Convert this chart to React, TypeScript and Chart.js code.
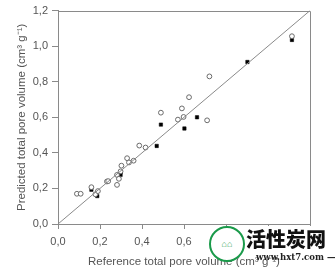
import React, { useEffect, useRef } from "react";
import { Chart, registerables } from "chart.js";

Chart.register(...registerables);

const openX = [0.09, 0.108, 0.159, 0.178, 0.19, 0.233, 0.239, 0.281, 0.281, 0.29, 0.302, 0.298, 0.329, 0.338, 0.36, 0.387, 0.417, 0.49, 0.571, 0.59, 0.598, 0.624, 0.71, 0.721, 1.114];
const openY = [0.17, 0.17, 0.207, 0.167, 0.185, 0.239, 0.241, 0.22, 0.276, 0.254, 0.328, 0.296, 0.37, 0.346, 0.356, 0.441, 0.43, 0.626, 0.587, 0.65, 0.602, 0.713, 0.583, 0.83, 1.056];
const filledX = [0.159, 0.187, 0.298, 0.298, 0.47, 0.49, 0.602, 0.662, 0.902, 1.114];
const filledY = [0.193, 0.157, 0.291, 0.276, 0.439, 0.559, 0.537, 0.6, 0.911, 1.035];
const lineX = [0, 1.2];
const lineY = [0, 1.2];
const ticks = [0, 0.2, 0.4, 0.6, 0.8, 1.0, 1.2];

const toPts = (xs: number[], ys: number[]) => xs.map((x, i) => ({ x, y: ys[i] }));

const boxPlugin = {
  id: "box",
  afterDraw(chart: any) {
    const { ctx, chartArea } = chart;
    ctx.save();
    ctx.strokeStyle = "#8a8a8a";
    ctx.lineWidth = 1;
    ctx.beginPath();
    ctx.moveTo(Math.round(chartArea.left) + 0.5, Math.round(chartArea.top) + 0.5);
    ctx.lineTo(Math.round(chartArea.right) + 0.5, Math.round(chartArea.top) + 0.5);
    ctx.lineTo(Math.round(chartArea.right) + 0.5, Math.round(chartArea.bottom) + 0.5);
    ctx.stroke();
    ctx.restore();
  },
};

export default function App() {
  const ref = useRef<HTMLCanvasElement>(null);
  useEffect(() => {
    const fmt = (v: any) => Number(v).toFixed(1).replace(".", ",");
    const font = { family: "'Liberation Sans', Arial, sans-serif", size: 11 };
    const chart = new Chart(ref.current!, {
      type: "scatter",
      data: {
        datasets: [
          {
            type: "line",
            data: toPts(lineX, lineY),
            borderColor: "#8a8a8a",
            borderWidth: 1,
            pointRadius: 0,
            fill: false,
          } as any,
          {
            data: toPts(openX, openY),
            pointStyle: "circle",
            pointRadius: 2.4,
            backgroundColor: "#ffffff",
            borderColor: "#6a6a6a",
            borderWidth: 1,
          },
          {
            data: toPts(filledX, filledY),
            pointStyle: "rect",
            pointRadius: 2.4,
            backgroundColor: "#000000",
            borderColor: "#000000",
            borderWidth: 0.5,
          },
        ],
      },
      options: {
        animation: false,
        responsive: false,
        layout: { padding: { left: 0, right: 25, top: 8, bottom: 0 } },
        plugins: { legend: { display: false }, tooltip: { enabled: false } },
        scales: {
          x: {
            type: "linear",
            min: 0,
            max: 1.2,
            afterBuildTicks: (s: any) => { s.ticks = ticks.map((v) => ({ value: v })); },
            afterFit: (s: any) => { s.height = 45; },
            ticks: { callback: fmt, color: "#555", font, padding: 6, maxRotation: 0 },
            grid: { drawOnChartArea: false, drawTicks: true, tickLength: 5, color: "#8a8a8a" },
            border: { color: "#8a8a8a" },
            title: { display: true, text: "Reference total pore volume (cm³ g⁻¹)", color: "#555", font: { ...font, size: 11.5 }, padding: { top: 0, bottom: 0 } },
          },
          y: {
            type: "linear",
            min: 0,
            max: 1.2,
            afterBuildTicks: (s: any) => { s.ticks = ticks.map((v) => ({ value: v })); },
            afterFit: (s: any) => { s.width = 58; },
            ticks: { callback: fmt, color: "#555", font, padding: 4 },
            grid: { drawOnChartArea: false, drawTicks: true, tickLength: 6, color: "#8a8a8a" },
            border: { color: "#8a8a8a" },
            title: { display: true, text: "Predicted total pore volume (cm³ g⁻¹)", color: "#555", font: { ...font, size: 11.5 }, padding: { top: 15, bottom: 0 } },
          },
        },
      },
      plugins: [boxPlugin],
    } as any);
    return () => chart.destroy();
  }, []);

  return (
    <div style={{ position: "absolute", left: 0, top: 0, width: 335, height: 269, background: "#fff" }}>
      <canvas ref={ref} width={335} height={269} style={{ display: "block" }} />
      <div style={{ position: "absolute", left: 209, top: 226, width: 36, height: 36, borderRadius: "50%", border: "2px solid #1a9a4a", boxSizing: "border-box", background: "#fff", color: "#1a9a4a", fontSize: 9, lineHeight: "32px", textAlign: "center", fontFamily: "'Noto Sans CJK SC', sans-serif" }}>
        ⌂⌂
      </div>
      <div style={{ position: "absolute", left: 246, top: 226, width: 86, height: 26, background: "#fff", fontFamily: "'Noto Sans CJK SC', sans-serif", fontWeight: 900, fontSize: 20, lineHeight: "26px", color: "#111", whiteSpace: "nowrap" }}>
        活性炭网
      </div>
      <div style={{ position: "absolute", left: 256, top: 252, fontFamily: "'DejaVu Serif', serif", fontWeight: "bold", fontSize: 8.5, color: "#222", whiteSpace: "nowrap", lineHeight: "10px" }}>
        www.hxt7.com —
      </div>
    </div>
  );
}
